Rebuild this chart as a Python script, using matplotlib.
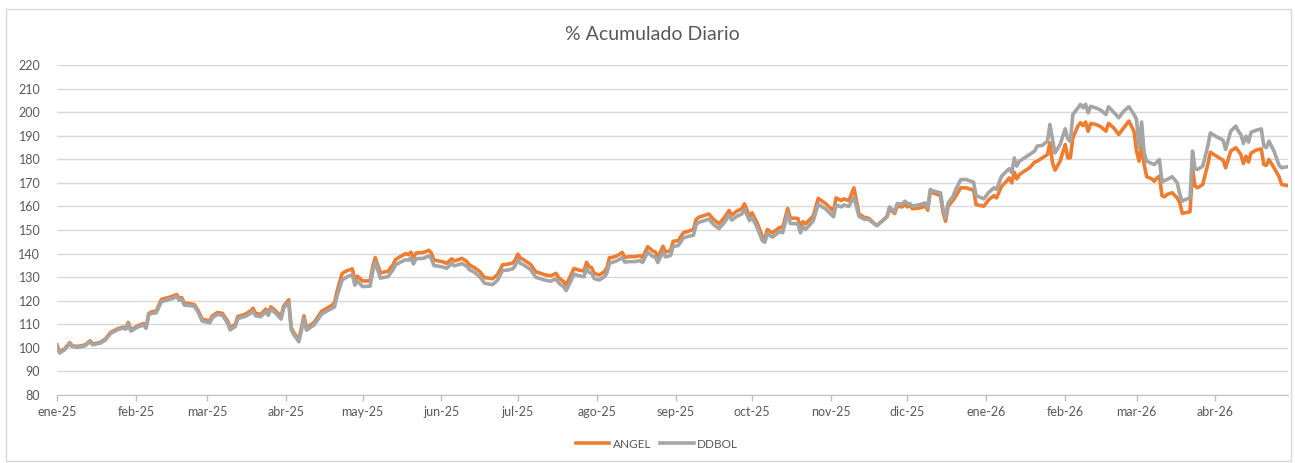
import pandas as pd
import matplotlib.pyplot as plt
from matplotlib.patches import Rectangle

plt.rcParams['font.family'] = ['Lato', 'DejaVu Sans']

# dias desde 2025-01-01
dias = [
    0, 1, 3, 5, 6, 8, 11, 13, 14, 17,
    19, 21, 24, 26, 27, 28, 29, 32, 34, 35,
    36, 37, 39, 41, 42, 44, 46, 47, 48, 49,
    50, 52, 54, 55, 56, 57, 60, 61, 63, 65,
    67, 68, 70, 71, 74, 76, 77, 78, 80, 82,
    83, 84, 86, 88, 89, 91, 92, 93, 95, 97,
    98, 101, 104, 107, 109, 110, 112, 114, 116, 117,
    118, 120, 123, 124, 125, 127, 130, 132, 133, 135,
    137, 138, 139, 140, 141, 144, 146, 147, 148, 152,
    153, 155, 156, 158, 159, 161, 162, 164, 166, 168,
    170, 171, 173, 175, 177, 179, 180, 181, 182, 183,
    186, 188, 190, 192, 194, 196, 197, 199, 200, 202,
    203, 205, 207, 208, 209, 210, 211, 213, 215, 216,
    217, 218, 220, 222, 223, 225, 227, 229, 230, 232,
    234, 235, 236, 238, 239, 241, 242, 244, 246, 248,
    250, 251, 252, 256, 258, 260, 262, 264, 265, 267,
    269, 270, 272, 273, 275, 277, 278, 279, 281, 284,
    285, 287, 288, 291, 292, 293, 294, 297, 299, 302,
    305, 306, 308, 309, 311, 313, 315, 317, 319, 320,
    322, 324, 326, 327, 329, 330, 332, 333, 334, 335,
    336, 339, 341, 342, 343, 344, 347, 348, 349, 350,
    352, 353, 355, 357, 360, 361, 364, 366, 368, 369,
    371, 373, 374, 375, 376, 377, 378, 380, 382, 384,
    385, 387, 389, 390, 391, 392, 394, 396, 397, 398,
    399, 401, 402, 403, 404, 405, 406, 408, 410, 412,
    413, 415, 417, 419, 421, 423, 424, 425, 426, 427,
    428, 430, 431, 432, 433, 434, 435, 436, 438, 440,
    441, 442, 443, 445, 446, 447, 448, 450, 452, 453,
    455, 458, 459, 461, 463, 464, 465, 466, 467, 468,
    469, 471, 473, 474, 475, 476, 478, 480, 481, 483,
]

angel = [
    101.2, 98.2, 99.6, 102.2, 100.9, 100.6, 101.2, 103.0, 101.6, 102.3,
    103.7, 106.5, 108.2, 108.8, 108.3, 110.8, 107.6, 109.5, 110.3, 108.8,
    114.5, 115.2, 115.6, 120.5, 120.9, 121.4, 122.2, 122.6, 121.0, 121.3,
    118.9, 118.8, 118.3, 116.6, 114.6, 112.2, 111.4, 113.6, 115.0, 114.6,
    111.4, 108.6, 109.9, 113.3, 114.3, 115.6, 116.8, 114.6, 114.2, 116.4,
    114.8, 117.4, 115.6, 113.2, 117.7, 120.4, 108.6, 106.4, 103.5, 113.6,
    108.5, 110.8, 115.6, 117.4, 119.0, 124.0, 131.6, 132.8, 133.5, 128.8,
    130.4, 128.4, 128.4, 134.5, 138.3, 131.8, 132.5, 135.3, 137.5, 138.8,
    140.0, 139.5, 140.6, 138.2, 140.2, 140.5, 141.4, 140.3, 137.3, 136.4,
    135.8, 137.8, 136.9, 137.5, 138.0, 136.6, 135.2, 134.0, 132.4, 129.8,
    129.5, 129.3, 131.0, 135.2, 135.5, 136.0, 137.3, 139.8, 138.1, 137.6,
    135.4, 132.3, 131.6, 130.9, 130.6, 131.6, 129.8, 128.1, 126.7, 131.2,
    133.7, 133.0, 132.6, 136.3, 134.4, 134.0, 131.6, 130.9, 132.3, 134.0,
    138.3, 138.3, 139.1, 140.5, 138.4, 138.7, 138.7, 139.1, 138.3, 142.9,
    141.1, 140.7, 138.2, 143.1, 140.7, 141.3, 145.2, 145.5, 148.8, 149.5,
    150.2, 154.4, 155.4, 156.8, 154.4, 152.6, 155.1, 158.3, 156.3, 158.0,
    159.0, 161.1, 155.9, 157.3, 153.0, 147.4, 146.0, 150.2, 148.8, 151.2,
    150.9, 159.1, 155.1, 154.9, 151.2, 153.5, 152.6, 155.9, 163.4, 161.1,
    158.0, 163.6, 162.5, 163.2, 162.5, 167.9, 156.8, 155.4, 154.9, 153.7,
    151.9, 153.7, 155.6, 159.0, 157.0, 160.1, 159.8, 160.8, 159.8, 160.4,
    159.0, 159.4, 160.1, 158.4, 166.5, 165.8, 164.6, 157.6, 153.7, 160.1,
    162.7, 164.4, 167.9, 167.9, 166.9, 160.8, 160.1, 162.9, 164.6, 163.6,
    168.6, 170.7, 172.1, 170.0, 174.5, 171.7, 173.5, 175.0, 176.4, 178.8,
    179.2, 180.6, 182.0, 187.0, 178.5, 175.4, 179.2, 186.3, 180.6, 180.6,
    189.1, 194.1, 195.5, 194.3, 195.8, 191.9, 195.2, 194.8, 193.8, 191.9,
    195.2, 193.4, 190.5, 193.4, 196.2, 191.9, 183.5, 179.2, 186.3, 177.8,
    172.6, 171.7, 170.7, 172.1, 172.8, 164.6, 164.1, 165.1, 165.8, 163.6,
    161.5, 157.0, 157.3, 157.7, 175.7, 168.6, 167.9, 169.3, 177.8, 183.0,
    181.6, 179.6, 176.4, 183.5, 184.9, 183.5, 182.0, 178.2, 181.3, 178.8,
    182.7, 183.9, 184.4, 177.8, 177.4, 179.9, 176.4, 172.6, 169.3, 168.9,
]

ddbol = [
    101.0, 97.8, 99.2, 101.8, 100.6, 100.2, 100.9, 102.6, 101.3, 102.0,
    103.3, 106.1, 107.8, 108.4, 107.9, 110.4, 107.1, 109.0, 109.7, 108.3,
    113.8, 114.6, 114.9, 119.6, 119.9, 120.5, 121.2, 121.8, 120.2, 120.5,
    118.1, 118.0, 117.6, 115.9, 113.8, 111.4, 110.6, 112.8, 114.2, 113.8,
    110.5, 107.6, 109.0, 112.4, 113.4, 114.6, 115.6, 113.6, 113.2, 115.4,
    113.8, 116.4, 114.6, 112.2, 116.8, 119.4, 107.8, 105.6, 102.6, 112.4,
    107.5, 109.8, 114.4, 116.2, 117.4, 122.0, 128.8, 130.2, 131.0, 126.6,
    128.4, 126.0, 126.2, 132.4, 136.4, 129.6, 130.2, 133.2, 135.2, 136.4,
    137.4, 137.2, 138.2, 135.6, 137.8, 138.0, 139.0, 138.0, 135.0, 134.2,
    133.7, 135.8, 134.8, 135.4, 135.8, 134.6, 133.2, 132.0, 130.2, 127.4,
    127.0, 126.8, 128.6, 132.8, 133.0, 133.5, 135.0, 137.4, 135.8, 135.4,
    133.2, 130.0, 129.3, 128.6, 128.3, 129.3, 127.6, 125.9, 124.3, 128.8,
    131.3, 130.6, 130.2, 133.8, 132.0, 131.6, 129.4, 128.8, 130.2, 131.8,
    136.0, 136.2, 137.0, 138.3, 136.4, 136.6, 136.6, 137.0, 136.2, 140.6,
    138.8, 138.5, 136.2, 140.8, 138.6, 139.2, 143.0, 143.4, 146.6, 147.3,
    147.8, 152.2, 153.2, 154.6, 152.2, 150.6, 153.0, 156.3, 154.2, 155.8,
    156.8, 158.8, 154.0, 155.4, 151.0, 145.6, 144.8, 148.4, 147.0, 149.4,
    148.8, 157.0, 152.8, 152.6, 148.8, 151.4, 150.2, 153.8, 161.0, 158.8,
    155.6, 160.6, 159.8, 160.6, 160.0, 164.0, 155.8, 154.6, 154.4, 153.4,
    151.9, 153.7, 155.8, 159.8, 157.6, 161.2, 161.0, 162.2, 161.2, 161.2,
    160.1, 160.8, 161.5, 159.4, 167.2, 166.6, 165.8, 159.0, 155.2, 161.5,
    164.4, 167.2, 171.4, 171.4, 170.3, 164.6, 163.2, 166.0, 167.9, 167.2,
    172.8, 175.0, 176.0, 174.3, 180.6, 177.1, 179.2, 180.6, 182.0, 183.5,
    185.6, 185.9, 187.7, 194.8, 188.4, 182.7, 186.3, 192.9, 188.7, 187.5,
    199.0, 201.8, 203.3, 201.8, 203.3, 199.7, 202.5, 201.8, 200.8, 199.0,
    202.3, 200.0, 197.6, 200.4, 202.3, 199.0, 196.9, 184.9, 195.8, 182.7,
    179.2, 178.2, 177.8, 178.8, 179.9, 170.3, 171.0, 171.4, 172.6, 170.0,
    165.1, 162.2, 162.8, 163.6, 183.5, 176.0, 175.7, 177.1, 185.6, 191.2,
    189.8, 188.1, 184.2, 191.9, 194.1, 191.9, 190.5, 186.7, 189.8, 187.3,
    191.5, 192.3, 192.9, 185.6, 184.9, 187.7, 183.5, 177.4, 176.4, 176.8,
]

meses = ['ene-25', 'feb-25', 'mar-25', 'abr-25', 'may-25', 'jun-25', 'jul-25', 'ago-25',
         'sep-25', 'oct-25', 'nov-25', 'dic-25', 'ene-26', 'feb-26', 'mar-26', 'abr-26']
y_ticks = [80, 90, 100, 110, 120, 130, 140, 150, 160, 170, 180, 190, 200, 210, 220]

inicio = pd.Timestamp('2025-01-01')
fechas = inicio + pd.to_timedelta(dias, unit='D')
ticks_meses = pd.date_range('2025-01-01', periods=len(meses), freq='MS')

texto = '#595959'

fig = plt.figure(figsize=(12.95, 4.63), dpi=100)
# marco exterior del grafico
fig.patches.append(Rectangle((6 / 1295, 2 / 463), 1285 / 1295, 452 / 463,
                             transform=fig.transFigure, fill=False,
                             edgecolor='#d9d9d9', lw=1))

ax = fig.add_axes([57 / 1295, 1 - 395 / 463, (1288 - 57) / 1295, 330 / 463])

ax.plot(fechas, angel, color='#ED7D31', lw=2.6, label='ANGEL', solid_joinstyle='round')
ax.plot(fechas, ddbol, color='#A5A5A5', lw=2.6, label='DDBOL', solid_joinstyle='round')

ax.set_ylim(80, 220)
ax.set_yticks(y_ticks)
ax.set_xlim(inicio, inicio + pd.Timedelta(days=483.5))
ax.set_xticks(ticks_meses)
ax.set_xticklabels(meses)

ax.yaxis.grid(True, color='#d9d9d9', lw=1)
ax.set_axisbelow(True)
for s in ['top', 'right', 'left']:
    ax.spines[s].set_visible(False)
ax.spines['bottom'].set_color('#bfbfbf')
ax.tick_params(axis='y', length=0, pad=12, labelsize=9, labelcolor=texto)
ax.tick_params(axis='x', length=4, width=1, color='#bfbfbf', pad=4, labelsize=9, labelcolor=texto)

fig.text(652 / 1295, 1 - 35 / 463, '% Acumulado Diario', ha='center', va='center',
         fontsize=14, color=texto)

leg = fig.legend(loc='center', bbox_to_anchor=(657 / 1295, 1 - 444 / 463), ncol=2,
                 frameon=False, fontsize=8.5, handlelength=2.8, handletextpad=0.3,
                 columnspacing=0.8)
for t in leg.get_texts():
    t.set_color(texto)

fig.savefig('out.png', dpi=100)
